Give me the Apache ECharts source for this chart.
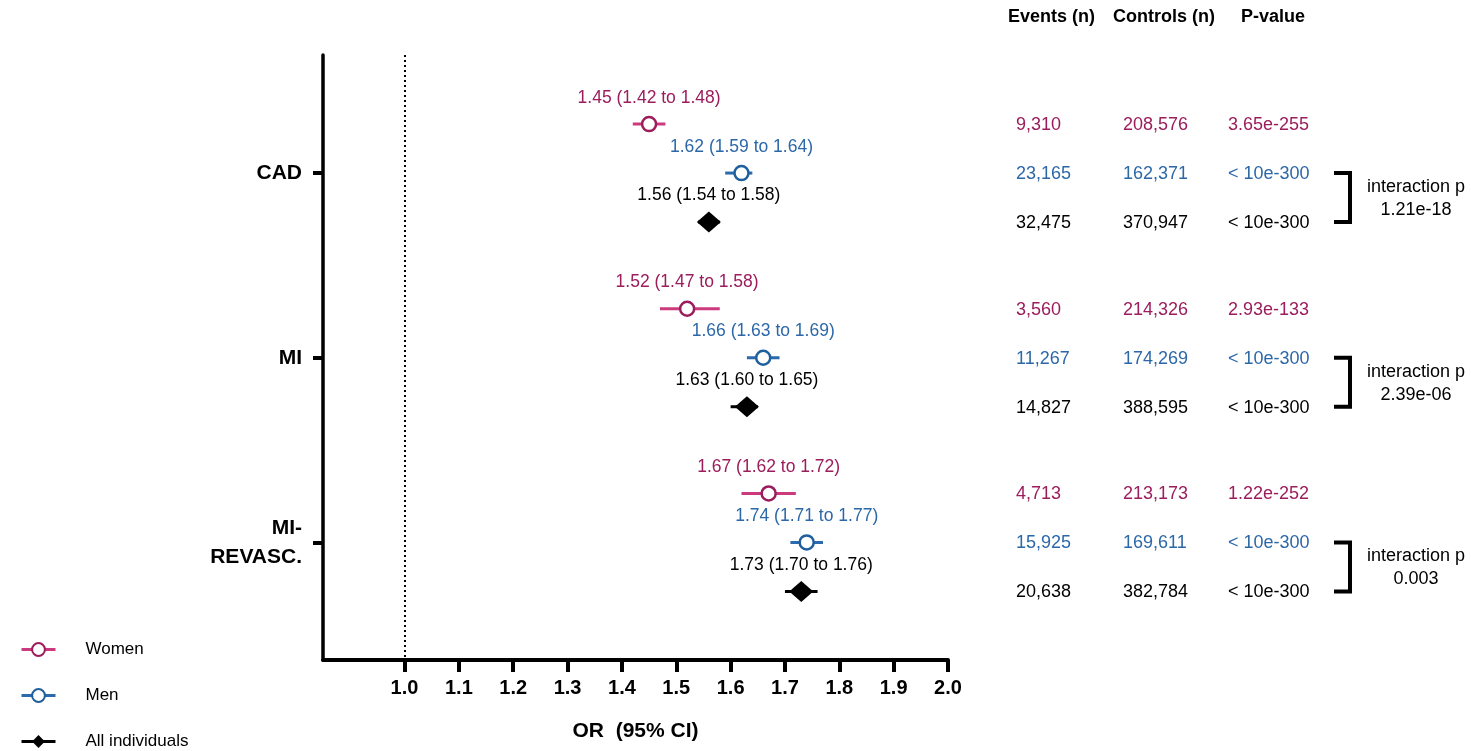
<!DOCTYPE html>
<html><head><meta charset="utf-8">
<script src="https://cdn.jsdelivr.net/npm/echarts@6/dist/echarts.min.js"></script>
<style>html,body{margin:0;padding:0;background:#fff}#c{width:1471px;height:751px}</style>
</head><body><div id="c"></div>
<script>
// ---------- data ----------
const outcomes = ['CAD', 'MI', 'MI-\nREVASC.'];
const groups = ['Women', 'Men', 'All individuals'];

const orWomen = [1.45, 1.52, 1.67];
const loWomen = [1.42, 1.47, 1.62];
const hiWomen = [1.48, 1.58, 1.72];

const orMen = [1.62, 1.66, 1.74];
const loMen = [1.59, 1.63, 1.71];
const hiMen = [1.64, 1.69, 1.77];

const orAll = [1.56, 1.63, 1.73];
const loAll = [1.54, 1.60, 1.70];
const hiAll = [1.58, 1.65, 1.76];

const eventsWomen = [9310, 3560, 4713];
const eventsMen = [23165, 11267, 15925];
const eventsAll = [32475, 14827, 20638];

const controlsWomen = [208576, 214326, 213173];
const controlsMen = [162371, 174269, 169611];
const controlsAll = [370947, 388595, 382784];

const pWomen = ['3.65e-255', '2.93e-133', '1.22e-252'];
const pMen = ['< 10e-300', '< 10e-300', '< 10e-300'];
const pAll = ['< 10e-300', '< 10e-300', '< 10e-300'];

const interactionP = ['1.21e-18', '2.39e-06', '0.003'];

const xTicks = [1.0, 1.1, 1.2, 1.3, 1.4, 1.5, 1.6, 1.7, 1.8, 1.9, 2.0];
const tableHeaders = ['Events (n)', 'Controls (n)', 'P-value'];

// ---------- layout ----------
const FONT = 'Liberation Sans, Arial, Helvetica, sans-serif';
const GROUP_STEP = 3.77;
const rowY = (g, r) => g * GROUP_STEP + r;
const groupCenters = outcomes.map((_, g) => rowY(g, 1));
const Y_MIN = -1.41, Y_MAX = 10.94;

const colors = {
  Women: { line: '#cc3a7e', mark: '#9b1d5c', text: '#9b1d5c' },
  Men: { line: '#2a6aad', mark: '#1f5f9e', text: '#2c68a8' },
  'All individuals': { line: '#000', mark: '#000', text: '#000' }
};

const sets = [
  { name: 'Women', or: orWomen, lo: loWomen, hi: hiWomen, ev: eventsWomen, ct: controlsWomen, p: pWomen, symbol: 'circle', size: 14 },
  { name: 'Men', or: orMen, lo: loMen, hi: hiMen, ev: eventsMen, ct: controlsMen, p: pMen, symbol: 'circle', size: 14 },
  { name: 'All individuals', or: orAll, lo: loAll, hi: hiAll, ev: eventsAll, ct: controlsAll, p: pAll, symbol: 'diamond', size: [24, 21] }
];

const COLS = [1016, 1123, 1228];
const BR_X = 1350, BR_TICK = 16, INT_X = 1416;

const fmtN = n => n.toLocaleString('en-US');

const series = [];

sets.forEach((s, r) => {
  const c = colors[s.name];
  // CI bars
  series.push({
    type: 'custom',
    name: s.name + ' CI',
    xAxisIndex: 0, yAxisIndex: 0,
    z: 2,
    silent: true,
    data: s.or.map((v, g) => [s.lo[g], s.hi[g], rowY(g, r)]),
    encode: { x: [0, 1], y: 2 },
    renderItem: (params, api) => {
      const a = api.coord([api.value(0), api.value(2)]);
      const b = api.coord([api.value(1), api.value(2)]);
      return { type: 'line', shape: { x1: a[0], y1: a[1], x2: b[0], y2: b[1] }, style: { stroke: c.line, lineWidth: 3 } };
    }
  });
  // point estimates
  const ser = {
    type: 'line',
    name: s.name,
    xAxisIndex: 0, yAxisIndex: 0,
    z: 3,
    symbol: s.symbol,
    symbolSize: s.size,
    showSymbol: true,
    lineStyle: { color: c.line, width: 3, opacity: 0 },
    itemStyle: s.symbol === 'circle'
      ? { color: '#fff', borderColor: c.mark, borderWidth: 2.5 }
      : { color: '#000', borderColor: '#000', borderWidth: 0 },
    label: {
      show: true, position: 'top', distance: s.symbol === 'circle' ? 9 : 7,
      color: c.text, fontFamily: FONT, fontSize: 17.5,
      formatter: p => `${s.or[p.dataIndex].toFixed(2)} (${s.lo[p.dataIndex].toFixed(2)} to ${s.hi[p.dataIndex].toFixed(2)})`
    },
    emphasis: { disabled: true },
    data: s.or.map((v, g) => [v, rowY(g, r)])
  };
  if (r === 0) {
    ser.markLine = {
      silent: true, symbol: ['none', 'none'],
      label: { show: false },
      lineStyle: { color: '#000', width: 2, type: [2, 3] },
      data: [{ xAxis: 1.0 }]
    };
  }
  series.push(ser);
});

// table text
const tableItems = [];
const tableTexts = [];
sets.forEach((s, r) => {
  outcomes.forEach((_, g) => {
    [fmtN(s.ev[g]), fmtN(s.ct[g]), s.p[g]].forEach((t, ci) => {
      tableItems.push([COLS[ci], rowY(g, r)]);
      tableTexts.push({ text: t, color: colors[s.name].text });
    });
  });
});
series.push({
  type: 'custom', name: 'table', xAxisIndex: 1, yAxisIndex: 1, silent: true,
  data: tableItems,
  renderItem: (params, api) => {
    const p = api.coord([api.value(0), api.value(1)]);
    const t = tableTexts[params.dataIndex];
    return { type: 'text', x: p[0], y: p[1] + 1, style: { text: t.text, fill: t.color, fontFamily: FONT, fontSize: 18, align: 'left', verticalAlign: 'middle' } };
  }
});

// brackets + interaction p
series.push({
  type: 'custom', name: 'interaction', xAxisIndex: 1, yAxisIndex: 1, silent: true,
  data: outcomes.map((_, g) => [BR_X, rowY(g, 1), rowY(g, 2)]),
  renderItem: (params, api) => {
    const top = api.coord([api.value(0), api.value(1)]);
    const bot = api.coord([api.value(0), api.value(2)]);
    const x = top[0];
    const tx = api.coord([INT_X, api.value(1)])[0];
    return {
      type: 'group', children: [
        { type: 'polyline', shape: { points: [[x - BR_TICK, top[1]], [x, top[1]], [x, bot[1]], [x - BR_TICK, bot[1]]] },
          style: { stroke: '#000', lineWidth: 4, fill: null, lineJoin: 'miter' } },
        { type: 'text', x: tx, y: (top[1] + bot[1]) / 2 + 1,
          style: { text: 'interaction p\n' + interactionP[params.dataIndex], fill: '#000', fontFamily: FONT, fontSize: 18, lineHeight: 23, align: 'center', verticalAlign: 'middle' } }
      ]
    };
  }
});

const headerStyle = { fontFamily: FONT, fontSize: 18, fontWeight: 'bold', color: '#000' };

const option = {
  backgroundColor: '#fff',
  animation: false,
  textStyle: { fontFamily: FONT },
  title: [
    { text: tableHeaders[0], left: 1008, top: 8, padding: 0, textStyle: headerStyle },
    { text: tableHeaders[1], left: 1113, top: 8, padding: 0, textStyle: headerStyle },
    { text: tableHeaders[2], left: 1241, top: 8, padding: 0, textStyle: headerStyle }
  ],
  legend: {
    orient: 'vertical', left: 20, top: 641, padding: 0,
    itemWidth: 34, itemHeight: 16, itemGap: 29,
    textStyle: { fontFamily: FONT, fontSize: 17, color: '#000', padding: [0, 0, 0, 25] },
    data: groups.map(n => ({ name: n, lineStyle: { opacity: 1, width: 3, color: colors[n].line } })),
    selectedMode: false
  },
  grid: [
    { left: 323, right: 523, top: 55, bottom: 91, outerBoundsMode: 'none', containLabel: false },
    { left: 0, right: 0, top: 55, bottom: 91, outerBoundsMode: 'none', containLabel: false }
  ],
  xAxis: [
    {
      type: 'value', gridIndex: 0, min: 0.85, max: 2.0,
      axisLine: { show: true, onZero: false, lineStyle: { color: '#000', width: 4 } },
      axisTick: { show: true, customValues: xTicks, length: 12, lineStyle: { color: '#000', width: 4 } },
      axisLabel: { show: true, customValues: xTicks, formatter: v => (+v).toFixed(1), color: '#000', fontFamily: FONT, fontSize: 20, fontWeight: 'bold', margin: 18 },
      splitLine: { show: false },
      name: 'OR  (95% CI)', nameLocation: 'middle', nameGap: 61,
      nameTextStyle: { color: '#000', fontFamily: FONT, fontSize: 21, fontWeight: 'bold' }
    },
    { type: 'value', gridIndex: 1, min: 0, max: 1471, show: false }
  ],
  yAxis: [
    {
      type: 'value', gridIndex: 0, inverse: true, min: Y_MIN, max: Y_MAX,
      axisLine: { show: true, onZero: false, lineStyle: { color: '#000', width: 3.5 } },
      axisTick: { show: true, customValues: groupCenters, length: 10, lineStyle: { color: '#000', width: 4 } },
      axisLabel: {
        show: true, customValues: groupCenters, margin: 21,
        formatter: v => { const i = groupCenters.findIndex(c => Math.abs(c - v) < 0.01); return i >= 0 ? outcomes[i] : ''; },
        color: '#000', fontFamily: FONT, fontSize: 21, fontWeight: 'bold', lineHeight: 29, align: 'right'
      },
      splitLine: { show: false }
    },
    { type: 'value', gridIndex: 1, inverse: true, min: Y_MIN, max: Y_MAX, show: false }
  ],
  series
};

const chart = echarts.init(document.getElementById('c'), null, { renderer: 'canvas' });
chart.setOption(option);
</script>
</body></html>
